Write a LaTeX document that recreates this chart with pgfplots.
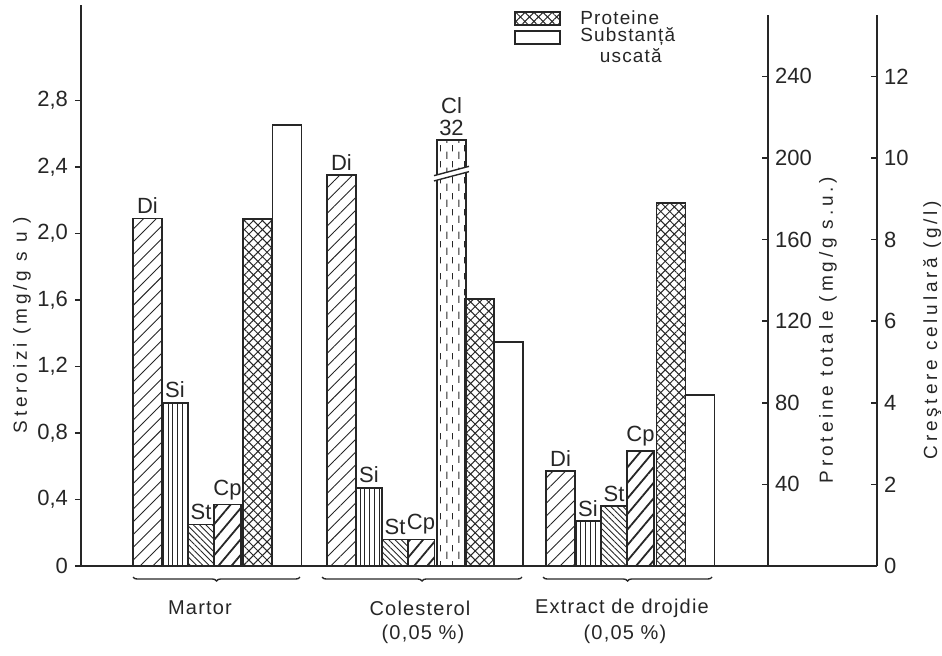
\documentclass[border=0pt]{standalone}
\usepackage{fontspec}
\setmainfont{Liberation Sans}
\newfontfamily\lab[LetterSpace=6]{Liberation Sans}
\newfontfamily\ttl[LetterSpace=20]{Liberation Sans}
\usepackage{pgfplots}
\pgfplotsset{compat=1.18}
\usetikzlibrary{patterns,patterns.meta,decorations.pathreplacing}

% dashed vertical hatching (cholesterol bar)
\pgfdeclarepattern{
  name=dashvert,
  type=uncolored,
  bottom left={\pgfpoint{0pt}{0pt}},
  top right={\pgfpoint{6pt}{8pt}},
  tile size={\pgfpoint{6pt}{8pt}},
  code={
    \pgfsetlinewidth{0.45pt}
    \pgfpathmoveto{\pgfpoint{1.5pt}{0.6pt}}\pgfpathlineto{\pgfpoint{1.5pt}{4.4pt}}
    \pgfpathmoveto{\pgfpoint{4.5pt}{4.6pt}}\pgfpathlineto{\pgfpoint{4.5pt}{7.9pt}}
    \pgfusepath{stroke}
  }
}

\colorlet{ink}{black!85}
\tikzset{
  diH/.style={pattern={Lines[angle=45,distance=4.5pt,line width=0.45pt]},pattern color=ink},
  siH/.style={pattern={Lines[angle=90,distance=2.4pt,line width=0.45pt]},pattern color=ink},
  stH/.style={pattern={Lines[angle=-45,distance=2.2pt,line width=0.45pt]},pattern color=ink},
  cpH/.style={pattern={Lines[angle=50,distance=5pt,line width=0.9pt]},pattern color=ink},
  clH/.style={pattern=dashvert,pattern color=ink},
  prH/.style={pattern={Lines[angle=45,distance=3.2pt,line width=0.5pt]},pattern color=ink,
              postaction={pattern={Lines[angle=-45,distance=3.2pt,line width=0.5pt]},pattern color=ink}},
}
\pgfplotsset{
  onebar/.style={ybar,bar shift=0pt,draw=ink,line width=0.9pt,bar width=#1},
  common/.style={
    scale only axis, anchor=south west, at={(40.5pt,44.5pt)},
    axis line style={-,line width=0.9pt,ink},
    tick style={line width=0.8pt,ink},
    ticklabel style={font=\fontsize{11}{12}\selectfont,ink},
    /pgf/number format/assume math mode=true,
    clip=false,
  },
  lbl/.style={nodes near coords={#1},
    every node near coord/.append style={font=\fontsize{11}{12}\selectfont,inner sep=2pt,ink}},
}

\begin{document}
\begin{tikzpicture}
\path[use as bounding box] (0,0) rectangle (471pt,327.5pt);

% steroids (left axis)
\begin{axis}[common,
  width=398pt, height=280.5pt,
  xmin=81, xmax=877, ymin=0, ymax=3.3744,
  axis x line*=bottom, axis y line*=left,
  xtick=\empty,
  ytick={0,0.4,0.8,1.2,1.6,2.0,2.4,2.8},
  yticklabels={0,{0,4},{0,8},{1,2},{1,6},{2,0},{2,4},{2,8}},
  tick align=outside, major tick length=3pt,
]
\addplot[onebar=29,diH,lbl=Di] coordinates {(147.5,2.09) (341.5,2.35) (560.5,0.57)};
\addplot[onebar=26,siH,lbl=Si] coordinates {(175,0.98) (369,0.47) (588,0.27)};
\addplot[onebar=26,stH,lbl=St] coordinates {(201,0.25) (395,0.16) (614,0.36)};
\addplot[onebar=27,cpH,lbl=Cp] coordinates {(227.5,0.37) (421,0.16) (640.5,0.69)};
% the cholesterol bar (32) is drawn broken at the top of the scale
\addplot[onebar=29,clH,y filter/.expression={y>3 ? 2.56 : y},
  nodes near coords={Cl\\32},
  every node near coord/.append style={font=\fontsize{11}{11}\selectfont,align=center,inner sep=2pt,ink}]
  coordinates {(451.5,32)};
\fill[white] (axis cs:435,2.318) -- (axis cs:468,2.372) -- (axis cs:468,2.402) -- (axis cs:435,2.348) -- cycle;
\draw[ink,line width=0.7pt] (axis cs:434,2.348) -- (axis cs:469,2.404);
\draw[ink,line width=0.7pt] (axis cs:434,2.316) -- (axis cs:469,2.372);
\end{axis}

% total proteins
\begin{axis}[common,
  width=343.5pt, height=275.5pt,
  xmin=81, xmax=768, ymin=0, ymax=270.1,
  axis x line=none, axis y line*=right,
  ytick={40,80,120,160,200,240},
  tick align=inside, major tick length=3pt,
]
\addplot[onebar=29,prH] coordinates {(257.5,170) (479.5,131) (671,178)};
\end{axis}

% dry substance / cell growth
\begin{axis}[common,
  width=398pt, height=275.5pt,
  xmin=81, xmax=877, ymin=0, ymax=13.505,
  axis x line=none, axis y line*=right,
  ytick={0,2,4,6,8,10,12},
  tick align=inside, major tick length=3pt,
]
\addplot[onebar=29,fill=white] coordinates {(287,10.8) (508.5,5.5) (700,4.2)};
\end{axis}

\begin{scope}[x=0.5pt,y=-0.5pt,shift={(0,327.5pt)}]
  % legend
  \draw[ink,line width=0.9pt,prH] (515,12) rectangle (560,25);
  \draw[ink,line width=0.9pt,fill=white] (515,31) rectangle (560,44);
  \node[anchor=west,inner sep=0,font=\lab\fontsize{9.5}{11}\selectfont,ink] at (580,18) {Proteine};
  \node[anchor=west,inner sep=0,font=\lab\fontsize{9.5}{11}\selectfont,ink] at (580,37) {Substanță};
  \node[anchor=east,inner sep=0,font=\lab\fontsize{9.5}{11}\selectfont,ink] at (662,56) {uscată};
  % axis titles
  \node[rotate=90,font=\ttl\fontsize{9.5}{11}\selectfont,ink] at (22,325) {Steroizi (mg/g s u )};
  \node[rotate=90,font=\ttl\fontsize{9.5}{11}\selectfont,ink] at (828,330) {Proteine totale (mg/g s.u.)};
  \node[rotate=90,font=\ttl\fontsize{9.5}{11}\selectfont,ink] at (932,330) {Creştere celulară (g/l)};
  % group braces and names
  \draw[ink,line width=0.7pt,decorate,decoration={brace,mirror,amplitude=2pt}] (133,577) -- (300,577);
  \draw[ink,line width=0.7pt,decorate,decoration={brace,mirror,amplitude=2pt}] (322,577) -- (522,577);
  \draw[ink,line width=0.7pt,decorate,decoration={brace,mirror,amplitude=2pt}] (543,577) -- (712,577);
  \node[font=\lab\fontsize{10}{11}\selectfont,ink] at (200,608) {Martor};
  \node[font=\lab\fontsize{10}{11}\selectfont,ink] at (420,608) {Colesterol};
  \node[font=\lab\fontsize{10}{11}\selectfont,ink] at (423,634) {(0,05 \%)};
  \node[font=\lab\fontsize{10}{11}\selectfont,ink] at (622,608) {Extract de drojdie};
  \node[font=\lab\fontsize{10}{11}\selectfont,ink] at (625,634) {(0,05 \%)};
\end{scope}
\end{tikzpicture}
\end{document}
